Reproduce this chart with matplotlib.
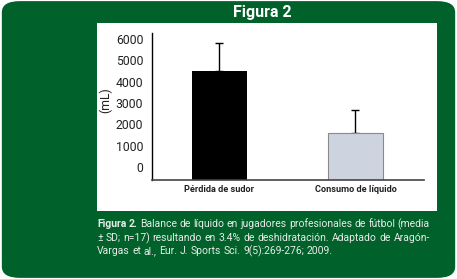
import matplotlib.pyplot as plt
from matplotlib.patches import FancyBboxPatch, Rectangle

# data
categories = ['Pérdida de sudor', 'Consumo de líquido']
means = [4500, 1580]
sds = [1320, 1100]
yticks = [0, 1000, 2000, 3000, 4000, 5000, 6000]

green = '#00612b'
cap_color = '#e6ece6'
narrow = ['Roboto', 'DejaVu Sans']

W, H = 457, 279
fig = plt.figure(figsize=(W / 100, H / 100), dpi=100)
fig.patch.set_facecolor('white')

def px(x, y):
  # pixel coords (top-left origin) -> figure fraction
  return x / W, 1 - y / H

# rounded green card + white panel
fig.patches.append(FancyBboxPatch((0.004, 0.004), 0.992, 0.992,
    boxstyle='round,pad=0,rounding_size=0.04', transform=fig.transFigure,
    facecolor=green, edgecolor='none', zorder=-2))
x0, y0 = px(97, 211)
x1, y1 = px(437, 23)
fig.patches.append(Rectangle((x0, y0), x1 - x0, y1 - y0, transform=fig.transFigure,
    facecolor='white', edgecolor='none', zorder=-1))

fig.text(*px(262, 12), 'Figura 2', color='white', fontsize=11.5, fontweight='bold',
         family=narrow, ha='center', va='center')

# chart
l, b = px(151.7, 180)
r, t = px(424, 33)
ax = fig.add_axes([l, b, r - l, t - b])
ax.set_facecolor('none')
lo = -609
ax.set_ylim(lo, 6281)
ax.set_xlim(-0.4985, 1.504)
x = range(len(categories))
ax.bar(x[0], means[0] - lo, bottom=lo, width=0.40, color='black', zorder=2)
ax.bar(x[1], means[1] - lo, bottom=lo, width=0.40, color='#cdd3df',
       edgecolor='#8a8a8a', linewidth=0.8, zorder=2)
ax.errorbar(x, means, yerr=[[0, 0], sds], fmt='none', ecolor='black',
            elinewidth=1, capsize=3, capthick=1, zorder=1)

for s in ['top', 'right']:
  ax.spines[s].set_visible(False)
ax.spines['left'].set_linewidth(1)
ax.spines['bottom'].set_color('#444444')
ax.spines['bottom'].set_linewidth(1.2)

ax.set_yticks(yticks)
ax.set_yticklabels([str(v) for v in yticks], family=narrow, fontsize=8.8, color='#222222')
ax.tick_params(axis='y', length=0, pad=6)
ax.set_xticks(list(x))
ax.set_xticklabels(categories, fontsize=6.6, fontweight='bold', color='#222222',
                   family=narrow)
ax.tick_params(axis='x', length=0, pad=3.5)
fig.text(*px(106, 100), '(mL)', rotation=90, family=narrow, fontsize=8.8,
         color='#222222', ha='center', va='center')

# caption, justified by hand
lines = [
  [('Figura 2.', 'bold'), ('Balance de líquido en jugadores profesionales de fútbol (media', 'normal')],
  [('± SD; n=17) resultando en 3.4% de deshidratación. Adaptado de Aragón-', 'normal')],
  [('Vargas et al., Eur. J. Sports Sci. 9(5):269-276; 2009.', 'normal')],
]
line_y = [224, 238, 251]
left_px, right_px = 97, 430
renderer = fig.canvas.get_renderer()
for i, (parts, yy) in enumerate(zip(lines, line_y)):
  words = []
  for txt, wt in parts:
    for w in txt.split(' '):
      words.append((w, wt))
  arts = []
  for w, wt in words:
    a = fig.text(0, 1 - yy / H, w, fontsize=7.5, family=narrow, fontweight=wt,
                 color=cap_color, va='center', ha='left')
    arts.append(a)
  widths = [a.get_window_extent(renderer).width for a in arts]
  last = i == len(lines) - 1
  if last:
    gap = 2.6
  else:
    gap = (right_px - left_px - sum(widths)) / (len(arts) - 1)
  xx = left_px
  for a, w in zip(arts, widths):
    a.set_x(xx / W)
    xx += w + gap

fig.savefig('out.png', dpi=100, facecolor=fig.get_facecolor())
